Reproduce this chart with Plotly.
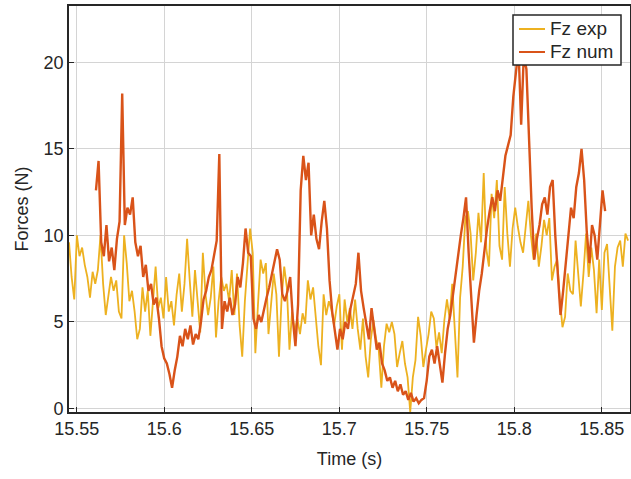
import numpy as np
import plotly.graph_objects as go

# ---------------- data ----------------
# Experimental vertical force, sampled every dt_exp seconds from t0_exp
t0_exp = 15.5456
dt_exp = 0.0015
fz_exp = [
    9.6, 7.6, 6.3, 10.0, 8.8, 9.3, 8.3, 7.6, 6.4, 7.9,
    7.2, 8.0, 10.0, 7.2, 5.4, 6.6, 7.6, 6.8, 7.4, 5.6,
    5.2, 10.0, 8.4, 6.2, 6.8, 5.6, 4.0, 4.6, 7.0, 5.6,
    6.8, 4.2, 6.4, 8.2, 5.8, 6.4, 5.2, 7.6, 5.6, 6.2,
    4.8, 6.6, 7.8, 5.6, 7.2, 9.8, 7.4, 5.3, 8.0, 6.4,
    4.4, 9.0, 6.6, 5.4, 6.4, 8.2, 4.1, 6.2, 7.6, 6.8,
    7.2, 6.2, 8.0, 5.4, 7.8, 4.8, 3.0, 6.2, 8.4, 10.4,
    9.0, 3.2, 6.0, 8.6, 7.8, 8.4, 4.3, 6.2, 7.8, 6.6,
    3.0, 6.4, 8.2, 7.0, 3.4, 5.6, 4.4, 5.2, 4.3, 5.5,
    4.9, 7.4, 6.3, 7.0, 5.2, 3.6, 2.5, 6.6, 5.4, 6.2,
    5.7, 4.8, 5.9, 6.6, 3.4, 6.3, 5.0, 5.8, 4.6, 6.3,
    4.6, 3.4, 5.2, 3.0, 1.8, 4.0, 5.1, 4.0, 3.4, 1.2,
    3.6, 4.9, 4.4, 5.0, 4.3, 2.4, 3.2, 3.9, 2.6, 1.8,
    -0.2, 1.8, 2.8, 5.3, 4.2, 2.4, 3.4, 4.3, 5.6, 5.2,
    3.5, 4.4, 3.2, 5.1, 6.3, 5.2, 7.2, 4.6, 1.8, 6.4,
    8.2, 11.0, 11.4, 10.1, 7.4, 9.0, 11.3, 9.6, 13.6, 9.2,
    8.2, 12.4, 11.0, 13.2, 9.4, 8.6, 12.8, 10.1, 8.2, 10.4,
    11.6, 10.5, 9.6, 9.0, 10.6, 12.0, 10.0, 8.6, 10.1, 8.2,
    9.4, 10.9, 10.0, 11.0, 7.4, 8.2, 8.6, 6.3, 4.7, 5.3,
    7.8, 6.8, 6.6, 9.7, 7.8, 5.9, 7.8, 10.1, 7.6, 9.3,
    8.0, 5.5, 8.6, 5.7, 9.0, 9.5, 7.0, 4.5, 8.2, 9.3,
    9.7, 8.2, 10.1, 9.7,
]

# Numerical vertical force, sampled every dt_num seconds from t0_num
t0_num = 15.5610
dt_num = 0.0015
fz_num = [
    12.6, 14.3, 9.6, 8.8, 10.6, 8.5, 9.3, 8.0, 9.8, 10.8,
    18.2, 10.6, 11.6, 11.2, 12.2, 9.6, 8.8, 9.4, 7.6, 8.3,
    6.8, 7.2, 6.0, 6.4, 5.2, 3.6, 2.9, 2.6, 2.0, 1.2,
    2.2, 3.0, 4.2, 3.6, 4.6, 4.0, 4.8, 3.7, 4.3, 4.0,
    5.0, 6.3, 6.8, 7.6, 8.0, 8.8, 9.7, 14.7, 4.6, 6.2,
    5.6, 6.4, 5.4, 6.0, 7.6, 7.0, 8.4, 10.4, 9.0, 8.8,
    5.2, 4.6, 5.4, 5.0, 5.8, 6.4, 7.0, 7.8, 8.4, 9.2,
    8.6, 6.6, 6.2, 6.8, 7.6, 5.2, 3.6, 6.0, 12.6, 14.6,
    13.2, 14.2, 10.0, 11.2, 9.8, 9.2, 10.8, 12.0, 10.4, 7.4,
    5.6, 4.4, 3.4, 4.6, 4.0, 5.0, 4.6, 5.8, 6.6, 7.2,
    9.0, 6.8, 5.8, 5.0, 4.0, 5.8, 4.6, 3.4, 3.8, 2.6,
    2.2, 1.6, 1.8, 1.2, 1.6, 1.0, 1.4, 0.8, 1.0, 0.5,
    0.9, 0.4, 0.6, 0.3, 0.5, 0.6, 1.6, 3.0, 3.4, 2.6,
    3.6, 2.4, 1.5, 3.2, 4.6, 5.4, 6.6, 7.8, 8.8, 10.0,
    11.0, 12.2, 9.0, 6.0, 3.8, 5.4, 6.8, 7.8, 9.2, 10.4,
    11.4, 12.2, 11.4, 12.6, 12.0, 13.4, 14.6, 15.2, 15.8, 18.0,
    19.6, 20.8, 16.4, 20.4, 19.6, 15.0, 11.6, 8.6, 9.8, 10.6,
    11.8, 12.2, 11.2, 12.8, 13.2, 10.0, 7.4, 5.4, 6.8, 8.6,
    10.0, 11.6, 11.0, 12.8, 13.6, 15.0, 13.2, 10.2, 8.4, 10.6,
    10.0, 8.6, 10.8, 12.6, 11.4,
]

series_names = ["Fz exp", "Fz num"]
series_colors = ["#EDB120", "#D95319"]
x_ticks = [15.55, 15.6, 15.65, 15.7, 15.75, 15.8, 15.85]
y_ticks = [0, 5, 10, 15, 20]

# sample times
t_exp = t0_exp + dt_exp * np.arange(len(fz_exp))
t_num = t0_num + dt_num * np.arange(len(fz_num))

# ---------------- figure ----------------
FONT = "Liberation Sans, Arial, Helvetica, sans-serif"
TXT = "#262626"

fig = go.Figure()
fig.add_trace(go.Scatter(x=t_exp, y=fz_exp, mode="lines", name=series_names[0],
                         line=dict(color=series_colors[0], width=1.8)))
fig.add_trace(go.Scatter(x=t_num, y=fz_num, mode="lines", name=series_names[1],
                         line=dict(color=series_colors[1], width=2.4)))

axis_common = dict(
    showline=True, linecolor=TXT, linewidth=1.6, mirror=True,
    showgrid=True, gridcolor="#d4d4d4", gridwidth=1,
    ticks="inside", ticklen=5, tickcolor=TXT, tickwidth=1,
    zeroline=False,
    tickfont=dict(family=FONT, size=18, color=TXT),
    automargin=False,
)

fig.update_layout(
    width=631, height=479,
    margin=dict(l=69, r=1, t=6, b=67),
    paper_bgcolor="white", plot_bgcolor="white",
    font=dict(family=FONT, size=18, color=TXT),
    xaxis=dict(range=[15.5456, 15.8662], tickvals=x_ticks,
               ticktext=[f"{v:g}" for v in x_ticks],
               title=dict(text="Time (s)", standoff=14,
                          font=dict(family=FONT, size=18, color=TXT)),
               **axis_common),
    yaxis=dict(range=[-0.2, 23.25], tickvals=y_ticks,
               title=dict(text="Forces (N)", standoff=10,
                          font=dict(family=FONT, size=18, color=TXT)),
               **axis_common),
    showlegend=False,
)

# ---- MATLAB-style legend box (top right, inside the axes) ----
PW, PH, ML, MB = 561.0, 406.0, 69.0, 67.0
def px2paper(px, py):
    return (px - ML) / PW, (479 - MB - py) / PH

x0, y1 = px2paper(513, 15)
x1, y0 = px2paper(621, 65)
fig.add_shape(type="rect", xref="paper", yref="paper", x0=x0, x1=x1, y0=y0, y1=y1,
              line=dict(color=TXT, width=1.5), fillcolor="white", layer="above")
for k, py in enumerate([29, 52]):
    lx0, ly = px2paper(519, py)
    lx1, _ = px2paper(545, py)
    fig.add_shape(type="line", xref="paper", yref="paper", x0=lx0, x1=lx1, y0=ly, y1=ly,
                  line=dict(color=series_colors[k], width=2), layer="above")
    tx, ty = px2paper(548, py)
    fig.add_annotation(xref="paper", yref="paper", x=tx, y=ty, xanchor="left",
                       yanchor="middle", text=series_names[k], showarrow=False,
                       font=dict(family=FONT, size=19, color=TXT))

fig.write_html("out.html")
